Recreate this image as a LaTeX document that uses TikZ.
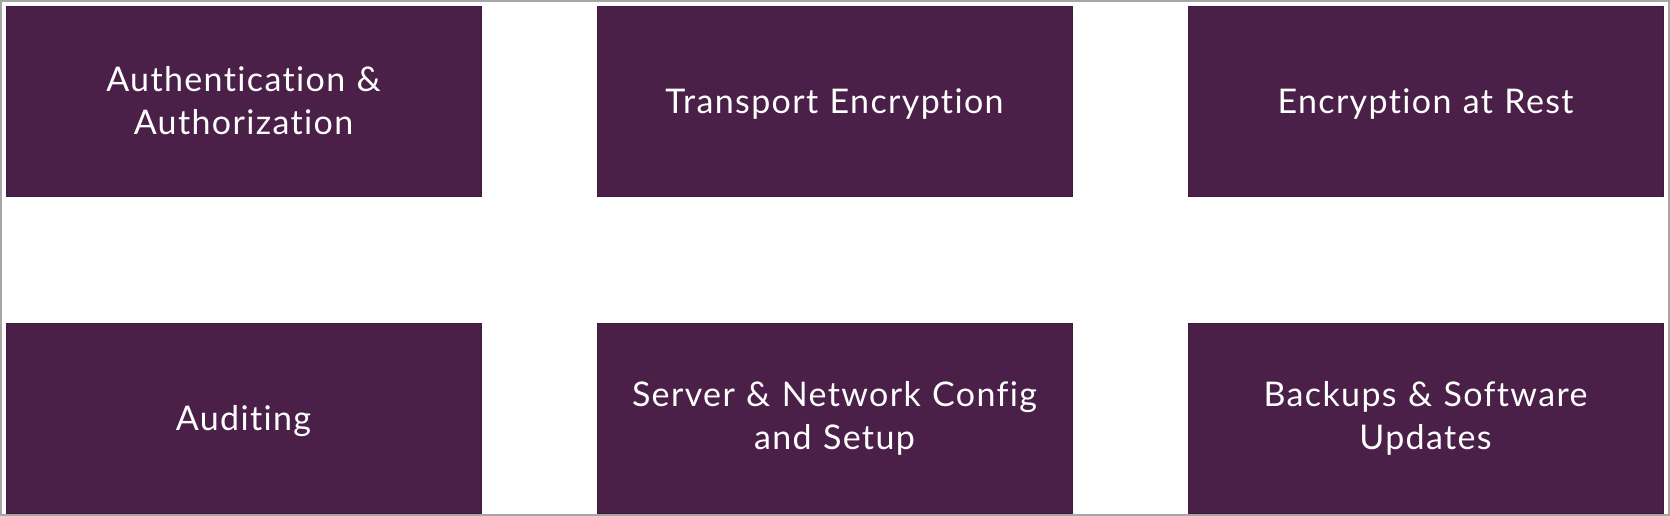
\documentclass[tikz,border=0pt]{standalone}
\usepackage{fontspec}
\setmainfont{Lato}[LetterSpace=4,Ligatures=NoCommon]
\usetikzlibrary{positioning}
\definecolor{areapurple}{RGB}{74,31,72}
\definecolor{framegray}{RGB}{166,166,166}

\begin{document}
\begin{tikzpicture}[
    x=1pt, y=-1pt,
    area/.style={
        draw=areapurple!85!black,
        line width=0.8pt,
        fill=areapurple,
        minimum width=475pt,
        minimum height=190pt,
        text width=440pt,
        align=center,
        text=white,
        font=\fontsize{34}{43}\selectfont,
        inner sep=0pt
    },
    arealine/.style={
        area,
        text depth=0pt
    }
]

% ============================================================
% PAGE AND FRAME
% ============================================================

\useasboundingbox (0,0) rectangle (1670,516);
\draw[framegray, line width=2pt] (1,1) rectangle (1669,515);

% ============================================================
% TOP ROW
% ============================================================

\node[area] (authn) at (243.5,101)
{Authentication \&\\Authorization};

\node[arealine] (transport) at (834.5,101)
{Transport Encryption};

\node[arealine] (atrest) at (1425.5,101)
{Encryption at Rest};

% ============================================================
% BOTTOM ROW
% ============================================================

\node[arealine] (audit) at (243.5,418)
{Auditing};

\node[area] (config) at (834.5,418)
{Server \& Network Config\\and Setup};

\node[area] (backups) at (1425.5,418)
{Backups \& Software\\Updates};

\end{tikzpicture}
\end{document}
